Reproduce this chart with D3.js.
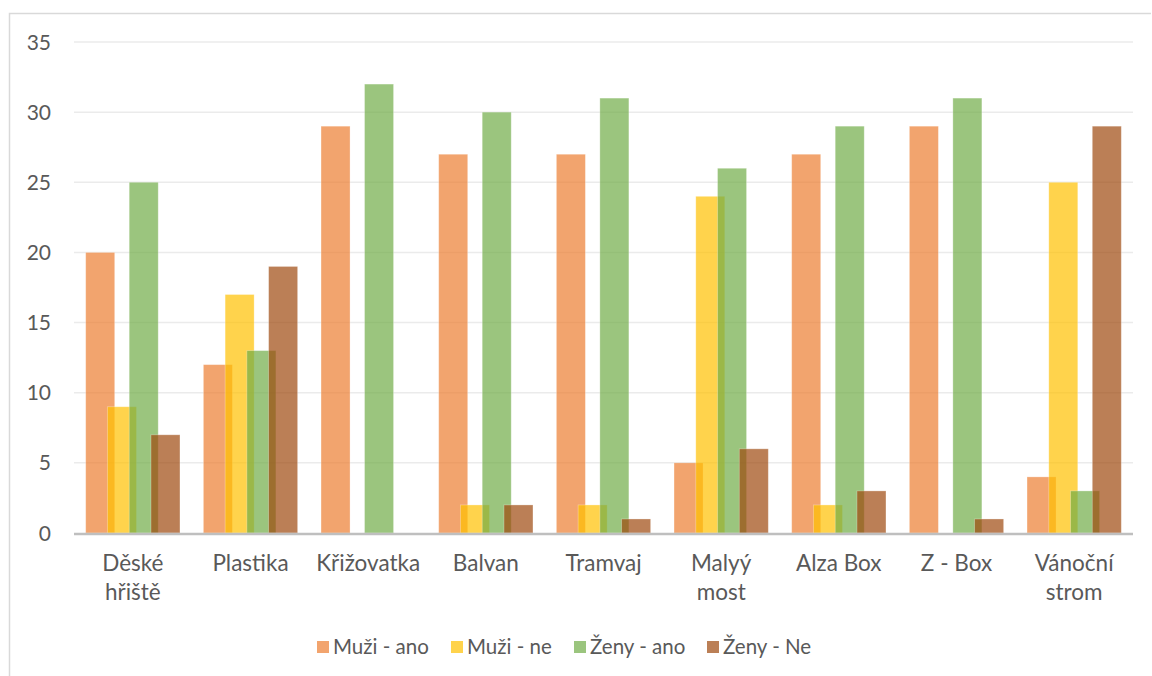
<!DOCTYPE html>
<html><head><meta charset="utf-8">
<script src="https://cdn.jsdelivr.net/npm/d3@7"></script>
<style>body{margin:0;background:#fff;} text{font-family:Lato,"Open Sans",sans-serif;fill:#595959;}</style>
</head><body><svg id="c" width="1152" height="676"></svg>
<script>
const categories = [["Děské","hřiště"],["Plastika"],["Křižovatka"],["Balvan"],["Tramvaj"],["Malyý","most"],["Alza Box"],["Z - Box"],["Vánoční","strom"]];
const seriesNames = ["Muži - ano","Muži - ne","Ženy - ano","Ženy - Ne"];
const muziAno = [20,12,29,27,27,5,27,29,4];
const muziNe  = [9,17,0,2,2,24,2,0,25];
const zenyAno = [25,13,32,30,31,26,29,31,3];
const zenyNe  = [7,19,0,2,1,6,3,1,29];
const yTicks = [0,5,10,15,20,25,30,35];
const colors = ["#ED7D31","#FFC000","#70AD47","#9E480E"];
const series = [muziAno, muziNe, zenyAno, zenyNe];

const svg = d3.select("#c");
svg.append("path").attr("d","M9.5,676 V13.5 H1151").attr("fill","none").attr("stroke","#d9d9d9").attr("stroke-width",1.5);

const L=74, R=1133, T=42, B=533;
const x = d3.scaleBand().domain(d3.range(categories.length)).range([L,R]).paddingInner(0).paddingOuter(0);
const y = d3.scaleLinear().domain([0,35]).range([B,T]);

svg.append("g").selectAll("line").data(yTicks.filter(d=>d>0)).join("line")
  .attr("x1",L).attr("x2",R).attr("y1",d=>y(d)).attr("y2",d=>y(d))
  .attr("stroke","#ebebeb").attr("stroke-width",1.5);

svg.append("g").selectAll("text").data(yTicks).join("text")
  .attr("x",51).attr("y",d=>y(d)).attr("dy","0.36em").attr("text-anchor","end")
  .attr("font-size",21).text(d=>d);

const bw = x.bandwidth();
const barW = bw*0.2465;
const step = barW*0.75;
const groupW = barW + step*3;
const off = (bw-groupW)/2;
series.forEach((s,si)=>{
  svg.append("g").selectAll("rect").data(s).join("rect")
    .attr("x",(d,i)=>x(i)+off+si*step)
    .attr("y",d=>y(d))
    .attr("width",barW)
    .attr("height",d=>B-y(d))
    .attr("fill",colors[si]).attr("fill-opacity",0.7)
    .attr("stroke","#ffffff").attr("stroke-opacity",0.35).attr("stroke-width",0.8);
});

svg.append("line").attr("x1",L).attr("x2",R).attr("y1",B+1).attr("y2",B+1).attr("stroke","#bfbfbf").attr("stroke-width",2.5);

const xl = svg.append("g").selectAll("text").data(categories).join("text")
  .attr("x",(d,i)=>x(i)+bw/2).attr("y",571).attr("text-anchor","middle").attr("font-size",22.5);
xl.selectAll("tspan").data(d=>d).join("tspan")
  .attr("x",function(){return this.parentNode.getAttribute("x");})
  .attr("dy",(d,i)=>i===0?0:29).text(d=>d);

const legX = [317,451,574,707];
const lg = svg.append("g").selectAll("g").data(seriesNames).join("g")
  .attr("transform",(d,i)=>`translate(${legX[i]},641)`);
lg.append("rect").attr("width",12).attr("height",12).attr("fill",(d,i)=>colors[i]).attr("fill-opacity",0.7);
lg.append("text").attr("x",16).attr("y",6).attr("dy","0.36em").attr("font-size",20.5).text(d=>d);
</script></body></html>
